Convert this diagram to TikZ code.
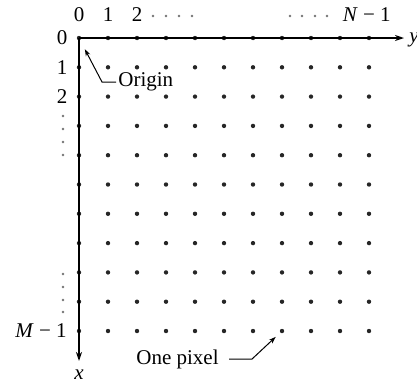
\documentclass[tikz,border=0pt]{standalone}
\usepackage{fontspec}
\setmainfont{Liberation Serif}
\usetikzlibrary{arrows.meta,positioning}
\tikzset{
  tengely/.style={line width=0.9pt,-{Stealth[length=4.5pt,width=3pt]}},
  pixelpont/.style={circle,fill=black!85,inner sep=0pt,minimum size=2.2pt},
  kispont/.style={fill=black!55},
  mutato/.style={line width=0.5pt,-{Stealth[length=3.5pt,width=2.4pt]}},
  felirat/.style={font=\fontsize{10.5}{12}\selectfont,inner sep=1pt},
}

\begin{document}
\begin{tikzpicture}[x=0.5pt,y=-0.5pt]
  \useasboundingbox (0,0) rectangle (417,387);
  % pixel grid: p-i-j is column i, row j
  \foreach \i in {0,...,10}
    \foreach \j in {0,...,10}
      \node[pixelpont] (p-\i-\j) at ({79+29*\i},{38+29.3*\j}) {};
  % axes
  \coordinate (yvege) at (404,38);
  \coordinate (xvege) at (79,361);
  \draw[tengely] (p-0-0.center) -- (yvege);
  \draw[tengely] (p-0-0.center) -- (xvege);
  \node[felirat] (ycimke) at (414,40) {\textit{y}};
  \node[felirat] (xcimke) at (79,375) {\textit{x}};
  % column and row indices
  \foreach \i in {0,1,2}
    \node[felirat] (o-\i) at ({79+29*\i},15) {\i};
  \foreach \j in {0,1,2}
    \node[felirat] (s-\j) at (62,{38+29.3*\j}) {\j};
  \node[felirat,anchor=east] (oN) at (393,15) {\textit{N} − 1};
  \node[felirat,anchor=east] (sM) at (69,331) {\textit{M} − 1};
  \foreach \x in {153,166,179,192,290,302,315,327}
    \fill[kispont] (\x,16) circle (0.65pt);
  \foreach \y in {116,129,142,155,274,287,300,312}
    \fill[kispont] (63,\y) circle (0.65pt);
  % pointers
  \node[felirat,anchor=west] (origo) at (116,82) {Origin};
  \draw[mutato,shorten >=5pt] (origo.west) -- ++(-14,0) -- (p-0-0);
  \node[felirat,anchor=west] (egypixel) at (134,359) {One pixel};
  \draw[mutato,shorten >=3pt] ([xshift=4pt]egypixel.east) -- ++(23,0) -- (p-7-10);
\end{tikzpicture}
\end{document}
